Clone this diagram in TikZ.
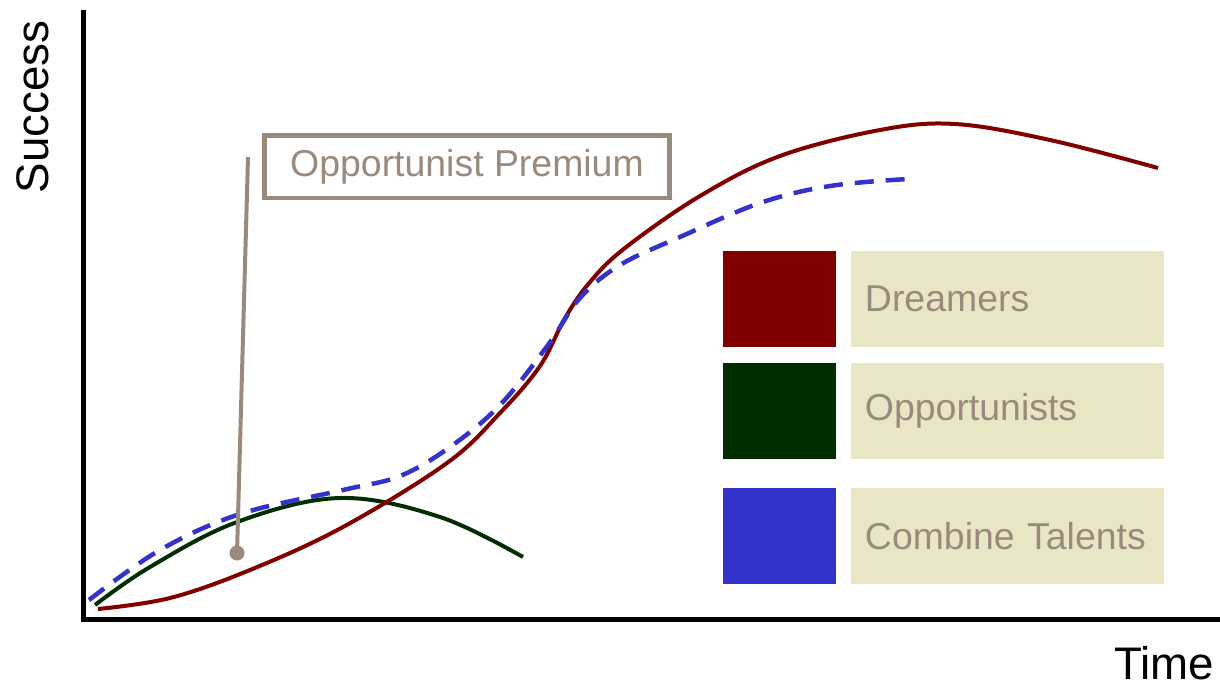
\documentclass[tikz,border=0pt]{standalone}
\usepackage{fontspec}
\setmainfont{Liberation Sans}
\usepackage{tikz}
\usetikzlibrary{positioning}
\definecolor{dreamred}{HTML}{800000}
\definecolor{oppgreen}{HTML}{002E00}
\definecolor{talentblue}{HTML}{3333CC}
\definecolor{legendtan}{HTML}{E9E6C6}
\definecolor{notegrey}{HTML}{9A8A7C}
\tikzstyle{swatch} = [
    minimum width=2.26cm,
    minimum height=1.92cm,
    inner sep=0pt,
    outer sep=0pt
]
\tikzstyle{legendlabel} = [
    fill=legendtan,
    text=notegrey,
    minimum height=1.92cm,
    text width=5.7cm,
    inner xsep=0.28cm,
    inner ysep=0pt,
    outer sep=0pt,
    align=left,
    font=\fontsize{21.3}{25}\selectfont
]
\tikzstyle{curve} = [
    line width=0.08cm,
    line cap=butt,
    smooth,
    tension=0.6
]

\begin{document}
\begin{tikzpicture}[x=0.02cm, y=-0.02cm]
\useasboundingbox (0,0) rectangle (1220,687);

% axes
\draw[line width=0.1cm] (83,10) -- (83,619) -- (1220,619);
\node [rotate=90, font=\fontsize{26}{30}\selectfont] (success) at (33,107) {Success};
\node [font=\fontsize{26}{30}\selectfont] (time) at (1164,663) {Time};

% curves
\draw[curve, oppgreen] plot coordinates {(95,605) (150,567) (237,522) (340,498) (440,517) (523,557)};
\draw[curve, dreamred] plot coordinates {(98,609) (170,598) (250,570) (343,527) (447,463) (500,413) (540,366) (565,318) (590,282) (625,248) (700,196) (780,156) (880,130) (955,124) (1050,140) (1158,168)};
\draw[curve, talentblue, line width=0.09cm, dash pattern=on 0.38cm off 0.24cm] plot coordinates {(89,600) (160,550) (240,514) (343,490) (400,476) (450,447) (500,405) (548,345) (580,298) (620,265) (680,237) (760,203) (830,186) (908,179)};

% premium note
\node [draw=notegrey,
    line width=0.1cm,
    text=notegrey,
    minimum width=8.1cm,
    minimum height=1.26cm,
    font=\fontsize{21.3}{25}\selectfont
]  (premium) at (467,166.5) {Opportunist Premium};

\coordinate (pintop) at (248,157);
\coordinate (pindot) at (237,553);
\draw[notegrey, line width=0.08cm] (pintop) -- (pindot);
\fill[notegrey] (pindot) circle [radius=0.15cm];

% legend
\node [swatch, fill=dreamred] (dreamsw) at (779.5,299) {};
\node [legendlabel, right=0.3cm of dreamsw] (dreamlbl) {Dreamers};

\node [swatch, fill=oppgreen, below=0.32cm of dreamsw] (oppsw) {};
\node [legendlabel, right=0.3cm of oppsw] (opplbl) {Opportunists};

\node [swatch, fill=talentblue, below=0.58cm of oppsw] (talentsw) {};
\node [legendlabel, right=0.3cm of talentsw] (talentlbl) {Combine Talents};

\end{tikzpicture}
\end{document}
